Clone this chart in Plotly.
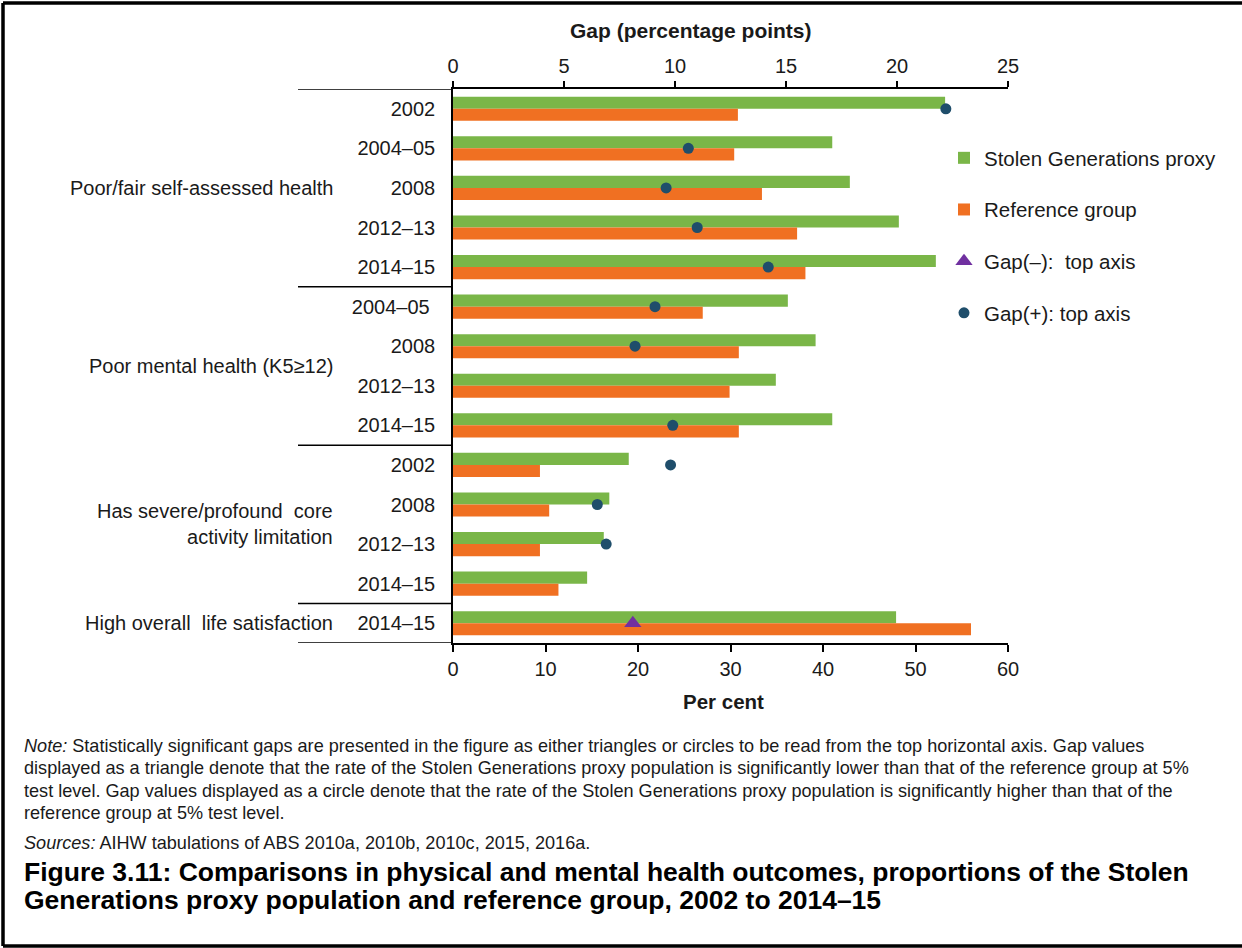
import plotly.graph_objects as go

# ---------------- data ----------------
groups = ["Poor/fair self-assessed health",
          "Poor mental health (K5≥12)",
          "Has severe/profound  core<br>activity limitation",
          "High overall  life satisfaction"]
group_sizes = [5, 4, 4, 1]
years = ["2002", "2004–05", "2008", "2012–13", "2014–15",
         "2004–05\u00a0", "2008", "2012–13", "2014–15",
         "2002", "2008", "2012–13", "2014–15",
         "2014–15"]
stolen = [53.2, 41.0, 42.9, 48.2, 52.2,
          36.2, 39.2, 34.9, 41.0,
          19.0, 16.9, 16.3, 14.5,
          47.9]
reference = [30.8, 30.4, 33.4, 37.2, 38.1,
             27.0, 30.9, 29.9, 30.9,
             9.4, 10.4, 9.4, 11.4,
             56.0]
gap_pos = [22.2, 10.6, 9.6, 11.0, 14.2,
           9.1, 8.2, None, 9.9,
           9.8, 6.5, 6.9, None,
           None]
gap_neg = [None] * 13 + [8.1]

x_ticks_bottom = [0, 10, 20, 30, 40, 50, 60]
x_ticks_top = [0, 5, 10, 15, 20, 25]

note_lines = [
    "<i>Note:</i> Statistically significant gaps are presented in the figure as either triangles or circles to be read from the top horizontal axis. Gap values",
    "displayed as a triangle denote that the rate of the Stolen Generations proxy population is significantly lower than that of the reference group at 5%",
    "test level. Gap values displayed as a circle denote that the rate of the Stolen Generations proxy population is significantly higher than that of the",
    "reference group at 5% test level.",
]
sources_line = "<i>Sources:</i> AIHW tabulations of ABS 2010a, 2010b, 2010c, 2015, 2016a."
title_lines = [
    "<b>Figure 3.11: Comparisons in physical and mental health outcomes, proportions of the Stolen</b>",
    "<b>Generations proxy population and reference group, 2002 to 2014–15</b>",
]

# ---------------- layout helpers ----------------
W, H = 1242, 948
L, R, T, B = 453, 1008, 89, 643
PW, PH = R - L, B - T


def px(xp):
    return (xp - L) / PW


def py(yp):
    return (B - yp) / PH


FONT = "Liberation Sans, Arial, sans-serif"
GREEN = "#7AB648"
ORANGE = "#F07022"
DOT = "#1F4E6B"
TRI = "#7030A0"
TXT = "#1a1a1a"

pos = list(range(len(years)))

fig = go.Figure()
fig.add_trace(go.Bar(y=pos, x=stolen, orientation="h", name="Stolen Generations proxy",
                     marker=dict(color=GREEN, line=dict(width=0)), legendgroup="a"))
fig.add_trace(go.Bar(y=pos, x=reference, orientation="h", name="Reference group",
                     marker=dict(color=ORANGE, line=dict(width=0)), legendgroup="b"))
fig.add_trace(go.Scatter(y=pos, x=gap_neg, xaxis="x2", mode="markers", name="Gap(–):  top axis",
                         marker=dict(symbol="triangle-up", size=15, color=TRI), legendgroup="c"))
fig.add_trace(go.Scatter(y=pos, x=gap_pos, xaxis="x2", mode="markers", name="Gap(+): top axis",
                         marker=dict(symbol="circle", size=11, color=DOT), legendgroup="d"))

# group separators (left side) computed from group sizes
shapes = []
bounds = [-0.5]
for s in group_sizes:
    bounds.append(bounds[-1] + s)
for b in bounds:
    shapes.append(dict(type="line", xref="paper", yref="y", x0=px(298), x1=0, y0=b, y1=b,
                       line=dict(color="black", width=1.5)))

# outer frame
shapes.append(dict(type="line", xref="paper", yref="paper", x0=px(3), x1=px(W + 5), y0=py(3), y1=py(3),
                   line=dict(color="black", width=3.5)))
shapes.append(dict(type="line", xref="paper", yref="paper", x0=px(3), x1=px(3), y0=py(3), y1=py(946),
                   line=dict(color="black", width=3.5)))
shapes.append(dict(type="line", xref="paper", yref="paper", x0=px(3), x1=px(W + 5), y0=py(946), y1=py(946),
                   line=dict(color="black", width=3.5)))

annotations = []
# group labels
start = 0
for g, s in zip(groups, group_sizes):
    center = start + (s - 1) / 2
    annotations.append(dict(text=g, xref="paper", yref="y", x=px(335), y=center, xanchor="right",
                            yanchor="middle", align="right", showarrow=False,
                            font=dict(family=FONT, size=20, color=TXT)))
    start += s

# axis titles
annotations.append(dict(text="<b>Gap (percentage points)</b>", xref="paper", yref="paper",
                        x=px(691), y=py(30), xanchor="center", yanchor="middle", showarrow=False,
                        font=dict(family=FONT, size=21, color=TXT)))
annotations.append(dict(text="<b>Per cent</b>", xref="paper", yref="paper",
                        x=px(723), y=py(701), xanchor="center", yanchor="middle", showarrow=False,
                        font=dict(family=FONT, size=20.5, color=TXT)))

# note
note_y = [746, 768, 791, 813]
for t, yy in zip(note_lines, note_y):
    annotations.append(dict(text=t, xref="paper", yref="paper", x=px(22), y=py(yy),
                            xanchor="left", yanchor="middle", showarrow=False,
                            font=dict(family=FONT, size=18.1, color=TXT)))
annotations.append(dict(text=sources_line, xref="paper", yref="paper", x=px(22), y=py(843),
                        xanchor="left", yanchor="middle", showarrow=False,
                        font=dict(family=FONT, size=18.1, color=TXT)))
for t, yy in zip(title_lines, [872, 900]):
    annotations.append(dict(text=t, xref="paper", yref="paper", x=px(22), y=py(yy),
                            xanchor="left", yanchor="middle", showarrow=False,
                            font=dict(family=FONT, size=26.5, color="black")))

fig.update_layout(
    width=W, height=H,
    margin=dict(l=L, r=W - R, t=T, b=H - B, pad=0),
    paper_bgcolor="white", plot_bgcolor="white",
    barmode="group", bargap=0.39, bargroupgap=0,
    font=dict(family=FONT, size=19, color=TXT),
    showlegend=True,
    legend=dict(x=px(944), y=py(138), xanchor="left", yanchor="top",
                font=dict(family=FONT, size=20.5, color=TXT),
                tracegroupgap=22, itemwidth=30, bgcolor="rgba(0,0,0,0)"),
    xaxis=dict(range=[0, 60], tickvals=x_ticks_bottom, showgrid=False, zeroline=False,
               showline=True, linecolor="black", linewidth=1.5, ticks="outside", ticklen=7,
               tickcolor="black", tickwidth=1.5, tickfont=dict(family=FONT, size=20, color=TXT),
               side="bottom", fixedrange=True),
    xaxis2=dict(range=[0, 25], tickvals=x_ticks_top, overlaying="x", side="top",
                showgrid=False, zeroline=False, showline=True, linecolor="black", linewidth=1.5,
                ticks="outside", ticklen=6, tickcolor="black", tickwidth=1.5,
                tickfont=dict(family=FONT, size=20, color=TXT), fixedrange=True),
    yaxis=dict(range=[len(years) - 0.5, -0.5], tickvals=pos, ticktext=years, showgrid=False,
               zeroline=False, showline=True, linecolor="black", linewidth=1.5, ticks="",
               ticklabelstandoff=12, tickfont=dict(family=FONT, size=20, color=TXT), fixedrange=True),
    shapes=shapes,
    annotations=annotations,
)

fig.write_html("out.html", config={"displayModeBar": False},
               post_script="document.body.style.margin='0px';document.body.style.overflow='hidden';")
